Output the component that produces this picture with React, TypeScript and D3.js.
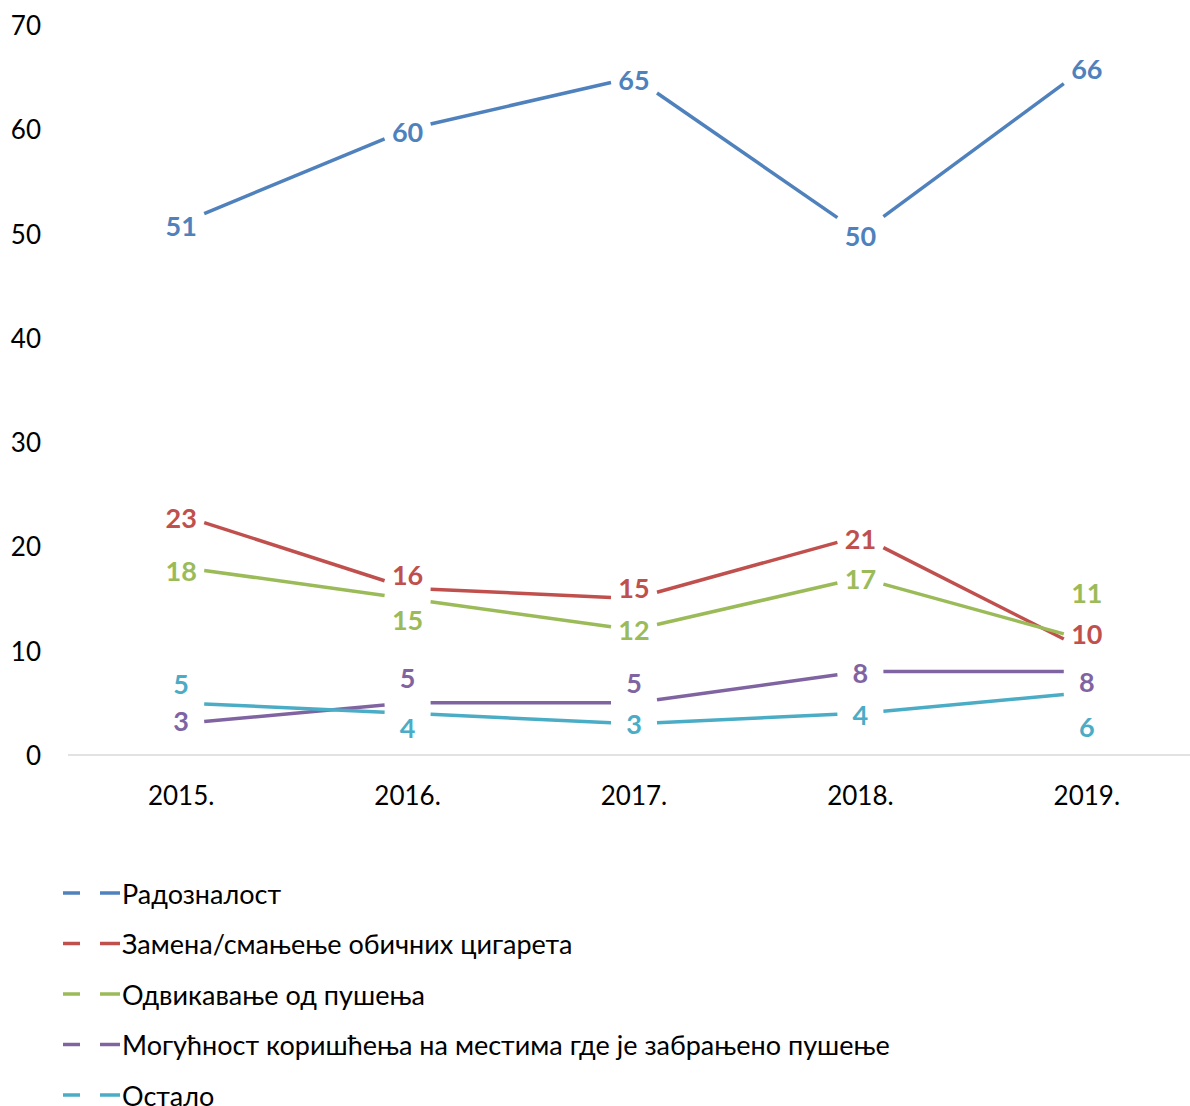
import React from "react";
import * as d3 from "d3";

const years = ["2015.", "2016.", "2017.", "2018.", "2019."];
const seriesNames = [
  "Радозналост",
  "Замена/смањење обичних цигарета",
  "Одвикавање од пушења",
  "Могућност коришћења на местима где је забрањено пушење",
  "Остало",
];
const radoznalost = [51, 60, 65, 50, 66];
const zamena = [23, 16, 15, 21, 10];
const odvikavanje = [18, 15, 12, 17, 11];
const mogucnost = [3, 5, 5, 8, 8];
const ostalo = [5, 4, 3, 4, 6];
const yTicks = [0, 10, 20, 30, 40, 50, 60, 70];

const colors = ["#4F81BD", "#C0504D", "#9BBB59", "#8064A2", "#4BACC6"];
// label vertical nudges (px) to avoid overlaps, as in the original
const labelShift = [
  [2, 2, 2, 2, 2],
  [2, -14, -11, 2, -17],
  [3, 21, 0, 1, -48],
  [-3, -25, -20, 1, 10],
  [-19, 14, 0, 1, 34],
];

const W = 1190;
const H = 1106;
const FONT = "Lato, 'Open Sans', 'DejaVu Sans', sans-serif";

export default function App() {
  const allSeries = [radoznalost, zamena, odvikavanje, mogucnost, ostalo];
  const x = d3.scaleBand().domain(years).range([68, 1200]);
  const y = d3.scaleLinear().domain([0, 70]).range([755, 25]);
  const cx = (i: number) => (x(years[i]) as number) + x.bandwidth() / 2;
  const line = d3
    .line<[number, number]>()
    .x((d) => d[0])
    .y((d) => d[1]);
  const trim = 23;

  return (
    <svg
      width={W}
      height={H}
      style={{ position: "absolute", left: 0, top: 0, background: "#fff" }}
      fontFamily={FONT}
    >
      <rect width={W} height={H} fill="#fff" />
      {yTicks.map((t) => (
        <text
          key={t}
          x={41}
          y={y(t)}
          textAnchor="end"
          dominantBaseline="central"
          fontSize={26}
          fill="#000"
        >
          {t}
        </text>
      ))}
      <line x1={68} x2={1190} y1={y(0)} y2={y(0)} stroke="#d9d9d9" strokeWidth={1.5} />
      {years.map((yr, i) => (
        <text
          key={yr}
          x={cx(i)}
          y={795}
          textAnchor="middle"
          dominantBaseline="central"
          fontSize={26}
          fill="#000"
        >
          {yr}
        </text>
      ))}
      {allSeries.map((vals, si) => (
        <g key={si}>
          {vals.slice(0, -1).map((v, i) => {
            const x0 = cx(i);
            const x1 = cx(i + 1);
            const y0 = y(v);
            const y1 = y(vals[i + 1]);
            const f = trim / (x1 - x0);
            const pts: [number, number][] = [
              [x0 + trim, y0 + (y1 - y0) * f],
              [x1 - trim, y1 - (y1 - y0) * f],
            ];
            return (
              <path
                key={i}
                d={line(pts) as string}
                fill="none"
                stroke={colors[si]}
                strokeWidth={3.5}
              />
            );
          })}
          {vals.map((v, i) => (
            <text
              key={i}
              x={cx(i)}
              y={y(v) + labelShift[si][i]}
              textAnchor="middle"
              dominantBaseline="central"
              fontSize={27}
              fontWeight="bold"
              fill={colors[si]}
            >
              {v}
            </text>
          ))}
        </g>
      ))}
      {seriesNames.map((name, i) => {
        const ly = 893 + i * 50.5;
        return (
          <g key={name}>
            <line x1={63} x2={80} y1={ly} y2={ly} stroke={colors[i]} strokeWidth={3.5} />
            <line x1={100} x2={120} y1={ly} y2={ly} stroke={colors[i]} strokeWidth={3.5} />
            <text x={122} y={ly} dominantBaseline="central" fontSize={27} fill="#000">
              {name}
            </text>
          </g>
        );
      })}
    </svg>
  );
}
